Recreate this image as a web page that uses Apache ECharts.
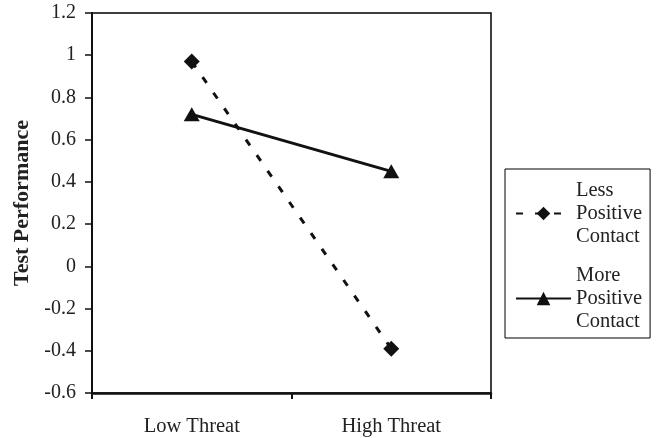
<!DOCTYPE html>
<html>
<head>
<meta charset="utf-8">
<script src="https://cdn.jsdelivr.net/npm/echarts@6/dist/echarts.min.js"></script>
<style>
  html, body { margin: 0; padding: 0; background: #fff; }
  #root { width: 656px; height: 438px; }
</style>
</head>
<body>
<div id="root"></div>
<script>
// chart data
var categories = ['Low Threat', 'High Threat']
var lessPositive = [0.97, -0.39]
var morePositive = [0.72, 0.45]
var yTicks = { min: -0.6, max: 1.2, step: 0.2 }

var font = 'Liberation Serif, Times New Roman, serif'

var chart = echarts.init(document.getElementById('root'))

var option = {
  animation: false,
  grid: {
    left: 92, right: 165, top: 13, bottom: 45,
    show: true, borderColor: '#000', borderWidth: 1.5
  },
  xAxis: {
    type: 'category',
    data: categories,
    boundaryGap: true,
    axisLine: { onZero: false, lineStyle: { color: '#111', width: 2.5 } },
    axisTick: { show: true, length: 6, lineStyle: { color: '#111', width: 2 } },
    axisLabel: { color: '#222', fontFamily: font, fontSize: 20.5, margin: 23 }
  },
  yAxis: {
    type: 'value',
    min: yTicks.min,
    max: yTicks.max,
    interval: yTicks.step,
    name: 'Test Performance',
    nameLocation: 'middle',
    nameGap: 57,
    nameTextStyle: { color: '#222', fontFamily: font, fontSize: 22, fontWeight: 'bold' },
    splitLine: { show: false },
    axisLine: { show: true, lineStyle: { color: '#111', width: 2 } },
    axisTick: { show: true, length: 7, lineStyle: { color: '#111', width: 1.5 } },
    axisLabel: {
      color: '#222', fontFamily: font, fontSize: 20, margin: 16,
      formatter: function (v) { return String(Math.round(v * 10) / 10) }
    }
  },
  legend: {
    orient: 'vertical',
    left: 505,
    top: 169,
    padding: [10, 8, 5, 10],
    itemGap: 16,
    itemWidth: 55,
    itemHeight: 17,
    borderColor: '#000',
    borderWidth: 1,
    textStyle: { color: '#222', fontFamily: font, fontSize: 20.5, lineHeight: 23 },
    formatter: function (name) { return name.split(' ').join('\n') },
    data: ['Less Positive Contact', 'More Positive Contact']
  },
  series: [
    {
      name: 'Less Positive Contact',
      type: 'line',
      data: lessPositive,
      symbol: 'diamond',
      symbolSize: 16,
      itemStyle: { color: '#111' },
      lineStyle: { color: '#111', width: 3, type: [7, 12] }
    },
    {
      name: 'More Positive Contact',
      type: 'line',
      data: morePositive,
      symbol: 'triangle',
      symbolSize: [16, 14],
      itemStyle: { color: '#111' },
      lineStyle: { color: '#111', width: 3 }
    }
  ]
}

chart.setOption(option)
</script>
</body>
</html>
